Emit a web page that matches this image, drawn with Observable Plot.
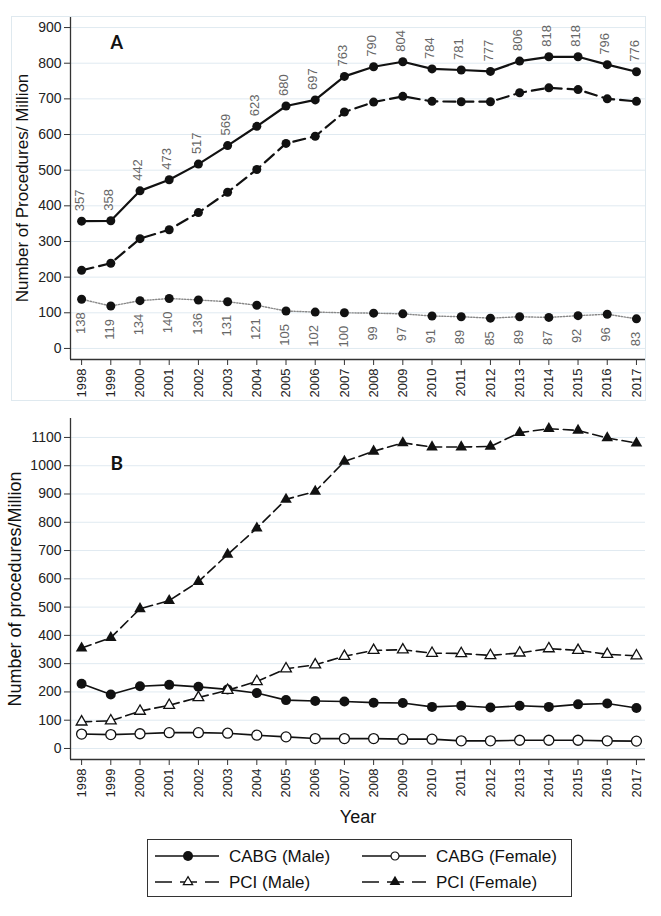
<!DOCTYPE html>
<html>
<head>
<meta charset="utf-8">
<script src="https://cdn.jsdelivr.net/npm/d3@7"></script>
<script src="https://cdn.jsdelivr.net/npm/@observablehq/plot@0.6"></script>
<style>
  html, body { margin: 0; padding: 0; background: #fff; }
  body { font-family: "Liberation Sans", Arial, sans-serif; }
  #wrap { position: relative; width: 661px; height: 916px; overflow: hidden; }
  #wrap svg { display: block; }
  #frameA { position: absolute; left: 11px; top: 16px; width: 635px; height: 385px; border: 1px solid #dfe9ef; box-sizing: border-box; pointer-events: none; }
  #legend { position: absolute; left: 147px; top: 839px; }
</style>
</head>
<body>
<div id="wrap">
  <div id="panelA"></div>
  <div id="panelB"></div>
  <div id="frameA"></div>
  <div id="legend"></div>
</div>
<script>
// ---------- data ----------
const years = [1998,1999,2000,2001,2002,2003,2004,2005,2006,2007,2008,2009,2010,2011,2012,2013,2014,2015,2016,2017];

// Panel A
const totalA = [357,358,442,473,517,569,623,680,697,763,790,804,784,781,777,806,818,818,796,776];
const pciA   = [219,239,308,333,381,438,502,575,595,663,691,707,693,692,692,717,731,726,700,693];
const cabgA  = [138,119,134,140,136,131,121,105,102,100,99,97,91,89,85,89,87,92,96,83];
const yTicksA = [0,100,200,300,400,500,600,700,800,900];

// Panel B
const cabgMale   = [229,191,220,225,218,209,196,171,168,166,162,161,147,151,145,151,147,156,159,143];
const cabgFemale = [51,49,52,56,56,54,47,41,35,35,35,33,33,27,27,29,29,29,27,26];
const pciMale    = [94,98,132,153,180,206,237,282,296,326,347,349,337,336,329,338,353,347,333,328];
const pciFemale  = [355,392,494,523,590,686,779,881,909,1015,1051,1081,1066,1066,1068,1117,1131,1125,1098,1080];
const yTicksB = [0,100,200,300,400,500,600,700,800,900,1000,1100];

const legendLabels = ["CABG (Male)", "CABG (Female)", "PCI (Male)", "PCI (Female)"];

// ---------- shared styling ----------
const W = 661;
const xDomain = [1997.62, 2017.31];
const font = '"Liberation Sans", Arial, sans-serif';
const gridColor = "#e0eaf1";
const axisColor = "#333";
const plain = d => String(d);

// ---------- Panel A ----------
const rowsA = years.map((year, i) => ({year, total: totalA[i], pci: pciA[i], cabg: cabgA[i]}));
const yDomA = [-31, 931];

const plotA = Plot.plot({
  width: W, height: 405,
  marginTop: 16, marginBottom: 46, marginLeft: 70, marginRight: 16,
  style: {fontFamily: font, fontSize: "14px", color: "#222", background: "#fff"},
  x: {domain: xDomain},
  y: {domain: yDomA},
  marks: [
    Plot.gridY(yTicksA, {stroke: gridColor, strokeOpacity: 1, strokeWidth: 1}),
    Plot.ruleX([xDomain[0]], {stroke: axisColor, strokeWidth: 1.3}),
    Plot.ruleY([yDomA[0]], {stroke: axisColor, strokeWidth: 1.3}),
    Plot.axisY(yTicksA, {tickSize: 6, tickPadding: 3, fontSize: 14, label: null, tickFormat: plain, stroke: axisColor}),
    Plot.axisX(years, {tickSize: 6, tickPadding: 3, tickRotate: -90, fontSize: 13, label: null, tickFormat: plain, stroke: axisColor}),
    Plot.text(["Number of Procedures/ Million"], {frameAnchor: "left", dx: -48, rotate: -90, fontSize: 17, textAnchor: "middle", lineAnchor: "middle", fill: "#111"}),
    Plot.text(["A"], {frameAnchor: "top-left", dx: 40, dy: 27, textAnchor: "start", lineAnchor: "middle", fontSize: 18, fontWeight: "bold", fontFamily: "Lato, 'Open Sans', sans-serif", fill: "#111"}),
    Plot.line(rowsA, {x: "year", y: "cabg", stroke: "#888", strokeWidth: 1.4, strokeDasharray: "1.3,1.6"}),
    Plot.line(rowsA, {x: "year", y: "pci", stroke: "#111", strokeWidth: 2.2, strokeDasharray: "12,6"}),
    Plot.line(rowsA, {x: "year", y: "total", stroke: "#111", strokeWidth: 2.2}),
    Plot.dot(rowsA, {x: "year", y: "cabg", r: 4.5, fill: "#111", stroke: "none"}),
    Plot.dot(rowsA, {x: "year", y: "pci", r: 4.5, fill: "#111", stroke: "none"}),
    Plot.dot(rowsA, {x: "year", y: "total", r: 4.5, fill: "#111", stroke: "none"}),
    Plot.text(rowsA, {x: "year", y: "total", text: d => String(d.total), rotate: -90, textAnchor: "start", lineAnchor: "middle", dy: -10, dx: -2, fontSize: 13, fill: "#666"}),
    Plot.text(rowsA, {x: "year", y: "cabg", text: d => String(d.cabg), rotate: -90, textAnchor: "end", lineAnchor: "middle", dy: 13, dx: -1, fontSize: 13, fill: "#666"})
  ]
});
document.getElementById("panelA").appendChild(plotA);

// ---------- Panel B ----------
const rowsB = years.map((year, i) => ({year, cabgM: cabgMale[i], cabgF: cabgFemale[i], pciM: pciMale[i], pciF: pciFemale[i]}));
const yDomB = [-39, 1167];
const dash = "10,5";

const plotB = Plot.plot({
  width: W, height: 427,
  marginTop: 13, marginBottom: 73, marginLeft: 70, marginRight: 16,
  style: {fontFamily: font, fontSize: "14px", color: "#222", background: "#fff"},
  x: {domain: xDomain},
  y: {domain: yDomB},
  marks: [
    Plot.gridY(yTicksB, {stroke: gridColor, strokeOpacity: 1, strokeWidth: 1}),
    Plot.ruleX([xDomain[0]], {stroke: axisColor, strokeWidth: 1.3}),
    Plot.ruleY([yDomB[0]], {stroke: axisColor, strokeWidth: 1.3}),
    Plot.axisY(yTicksB, {tickSize: 6, tickPadding: 3, fontSize: 14, label: null, tickFormat: plain, stroke: axisColor}),
    Plot.axisX(years, {tickSize: 6, tickPadding: 3, tickRotate: -90, fontSize: 13, label: null, tickFormat: plain, stroke: axisColor}),
    Plot.text(["Number of procedures/Million"], {frameAnchor: "left", dx: -55, rotate: -90, fontSize: 18, textAnchor: "middle", lineAnchor: "middle", fill: "#111"}),
    Plot.text(["Year"], {frameAnchor: "bottom", dy: 58, fontSize: 18, textAnchor: "middle", lineAnchor: "middle", fill: "#111"}),
    Plot.text(["B"], {frameAnchor: "top-left", dx: 40, dy: 45, textAnchor: "start", lineAnchor: "middle", fontSize: 19, fontWeight: "bold", fontFamily: "Lato, 'Open Sans', sans-serif", fill: "#111"}),
    Plot.line(rowsB, {x: "year", y: "cabgF", stroke: "#111", strokeWidth: 1.6}),
    Plot.line(rowsB, {x: "year", y: "cabgM", stroke: "#111", strokeWidth: 1.6}),
    Plot.line(rowsB, {x: "year", y: "pciM", stroke: "#111", strokeWidth: 1.6, strokeDasharray: dash}),
    Plot.line(rowsB, {x: "year", y: "pciF", stroke: "#111", strokeWidth: 1.6, strokeDasharray: dash}),
    Plot.dot(rowsB, {x: "year", y: "cabgF", r: 5, fill: "#fff", stroke: "#111", strokeWidth: 1.3}),
    Plot.dot(rowsB, {x: "year", y: "cabgM", r: 5, fill: "#111", stroke: "none"}),
    Plot.dot(rowsB, {x: "year", y: "pciM", r: 4, symbol: "triangle", fill: "#fff", stroke: "#111", strokeWidth: 1.3}),
    Plot.dot(rowsB, {x: "year", y: "pciF", r: 4.3, symbol: "triangle", fill: "#111", stroke: "none"})
  ]
});
document.getElementById("panelB").appendChild(plotB);

// ---------- Legend ----------
const legendItems = [
  {label: legendLabels[0], col: 0, row: 0, dashed: false, symbol: d3.symbolCircle, size: Math.PI * 25, fill: "#111", stroke: "none"},
  {label: legendLabels[1], col: 1, row: 0, dashed: false, symbol: d3.symbolCircle, size: Math.PI * 16, fill: "#fff", stroke: "#111"},
  {label: legendLabels[2], col: 0, row: 1, dashed: true, symbol: d3.symbolTriangle, size: Math.PI * 12, fill: "#fff", stroke: "#111"},
  {label: legendLabels[3], col: 1, row: 1, dashed: true, symbol: d3.symbolTriangle, size: Math.PI * 16, fill: "#111", stroke: "none"}
];
const lw = 425, lh = 58;
const lsvg = d3.select("#legend").append("svg").attr("width", lw).attr("height", lh);
lsvg.append("rect").attr("x", 0.5).attr("y", 0.5).attr("width", lw - 1).attr("height", lh - 1)
  .attr("fill", "#fff").attr("stroke", "#333").attr("stroke-width", 1);
const colX = [8, 215];
const rowY = [17, 43];
legendItems.forEach(it => {
  const g = lsvg.append("g").attr("transform", `translate(${colX[it.col]},${rowY[it.row]})`);
  g.append("line").attr("x1", 0).attr("x2", 64).attr("y1", 0).attr("y2", 0)
    .attr("stroke", "#111").attr("stroke-width", 1.6)
    .attr("stroke-dasharray", it.dashed ? "17,8" : null);
  g.append("path").attr("transform", "translate(33,0)")
    .attr("d", d3.symbol(it.symbol, it.size)())
    .attr("fill", it.fill).attr("stroke", it.stroke).attr("stroke-width", 1.2);
  g.append("text").attr("x", 74).attr("y", 0).attr("dy", "0.35em")
    .attr("font-family", font).attr("font-size", 17).attr("fill", "#111")
    .text(it.label);
});
</script>
</body>
</html>
